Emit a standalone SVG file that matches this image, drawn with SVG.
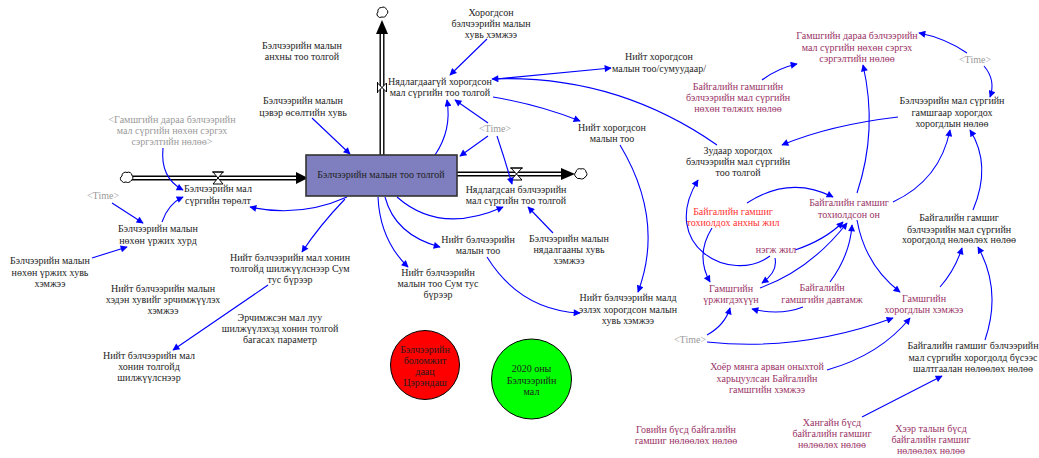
<svg xmlns="http://www.w3.org/2000/svg" width="1039" height="458" viewBox="0 0 1039 458">
<style>
text{font-family:"Liberation Serif","Times New Roman",serif;font-size:10px;text-anchor:middle;fill:#1e1e1e}
.g{fill:#9a9a9a}
.m{fill:#993366}
.r{fill:#ff3333}
.c{fill:none;stroke:#0000ff;stroke-width:1.1;marker-end:url(#a)}
.po{fill:none;stroke:#000;stroke-width:5}
.pi{fill:none;stroke:#fff;stroke-width:2.2}
.cl{fill:#fff;stroke:#000;stroke-width:1}
.v{fill:#fff;stroke:#000;stroke-width:1}
</style>
<defs>
<marker id="a" viewBox="0 0 10 10" refX="9" refY="5" markerWidth="9" markerHeight="7" markerUnits="userSpaceOnUse" orient="auto">
<path d="M0,0 L10,5 L0,10 z" fill="#0000ff"/>
</marker>
</defs>
<rect width="1039" height="458" fill="#fff"/>

<g id="flows">
<path class="po" d="M131,178 H298"/><path class="pi" d="M131,178 H298"/>
<path d="M296,172 L308,178 L296,184 z" fill="#000"/>
<path class="v" d="M213,172 H223 L213,184 H223 z"/>
<line x1="212" y1="172" x2="224" y2="172" stroke="#000"/>
<path class="cl" d="M122,176 a3.5,3.5 0 0 1 5,-3.5 a3.5,3.5 0 0 1 5,3 a3,3 0 0 1 -1,5 a3.5,3.5 0 0 1 -5,1.5 a3.5,3.5 0 0 1 -4.5,-1 a3,3 0 0 1 0.5,-5 z"/>
<path class="po" d="M382,155 V32"/><path class="pi" d="M382,155 V32"/>
<path d="M376,34 L382,20 L388,34 z" fill="#000"/>
<path class="v" d="M377.5,83 V92 L386.5,83 V92 z"/>
<line x1="377.5" y1="82" x2="377.5" y2="93" stroke="#000"/>
<path class="cl" d="M378,12 a3.5,3.5 0 0 1 3.5,-4.5 a3.5,3.5 0 0 1 5,2 a3,3 0 0 1 0,5 a3.5,3.5 0 0 1 -4.5,2.5 a3.5,3.5 0 0 1 -4.5,-1 a3,3 0 0 1 0.5,-4 z"/>
<path class="po" d="M457,174 H563"/><path class="pi" d="M457,174 H563"/>
<path d="M561,168 L575,174 L561,180 z" fill="#000"/>
<path class="v" d="M511,168 H522 L511,180 H522 z"/>
<line x1="510" y1="168" x2="523" y2="168" stroke="#000"/>
<path class="cl" d="M576,172 a3.5,3.5 0 0 1 5,-3 a3.5,3.5 0 0 1 5,3 a3,3 0 0 1 -1,5 a3.5,3.5 0 0 1 -5,1.5 a3.5,3.5 0 0 1 -4,-1.5 a3,3 0 0 1 0,-5 z"/>
</g>

<g id="connectors">
<path class="c" d="M312,118 L350,154"/>
<path class="c" d="M487,39 L450,75"/>
<path class="c" d="M435,155 Q452,130 447,100"/>
<path class="c" d="M488,123 L455,100"/>
<path class="c" d="M488,136 L460,156"/>
<path class="c" d="M497,136 Q505,160 512,184"/>
<path class="c" d="M717,145 Q615,74 492,79"/>
<path class="c" d="M496,79 L611,68"/>
<path class="c" d="M493,97 Q540,105 580,121"/>
<path class="c" d="M620,145 Q665,220 638,292"/>
<path class="c" d="M487,257 Q520,310 580,313"/>
<path class="c" d="M385,197 Q395,235 440,247"/>
<path class="c" d="M378,197 Q380,240 408,267"/>
<path class="c" d="M397,197 Q440,235 503,207"/>
<path class="c" d="M553,233 L528,207"/>
<path class="c" d="M347,197 Q300,218 250,207"/>
<path class="c" d="M345,199 Q320,225 302,252"/>
<path class="c" d="M163,148 Q160,178 183,190"/>
<path class="c" d="M112,203 L143,223"/>
<path class="c" d="M162,222 Q168,204 183,197"/>
<path class="c" d="M92,258 L127,247"/>
<path class="c" d="M268,285 L173,350"/>
<path class="c" d="M762,80 Q778,68 797,64"/>
<path class="c" d="M967,53 Q945,38 919,33"/>
<path class="c" d="M984,66 Q996,80 990,97"/>
<path class="c" d="M898,117 Q830,125 782,145"/>
<path class="c" d="M857,193 Q878,130 863,65"/>
<path class="c" d="M893,202 Q940,180 950,130"/>
<path class="c" d="M973,210 Q992,165 970,130"/>
<path class="c" d="M747,203 Q790,175 833,197"/>
<path class="c" d="M712,228 Q695,255 710,282"/>
<path class="c" d="M770,256 C730,285 658,245 698,180"/>
<path class="c" d="M775,258 Q778,272 762,283"/>
<path class="c" d="M795,250 Q825,240 843,222"/>
<path class="c" d="M760,288 Q810,270 847,223"/>
<path class="c" d="M830,282 Q850,255 852,225"/>
<path class="c" d="M803,307 Q780,316 752,309"/>
<path class="c" d="M857,220 Q865,265 900,292"/>
<path class="c" d="M940,287 Q955,270 962,248"/>
<path class="c" d="M985,340 Q1002,290 978,247"/>
<path class="c" d="M707,335 Q725,325 730,308"/>
<path class="c" d="M707,342 Q800,352 893,318"/>
<path class="c" d="M827,370 Q880,355 910,318"/>
<path class="c" d="M862,417 L942,376"/>
</g>

<g id="stock">
<rect x="306" y="155" width="151" height="41" fill="#7f7fbf" stroke="#333" stroke-width="1.6"/>
<text x="381" y="178">Бэлчээрийн малын тоо толгой</text>
</g>

<g id="n_anhny"><text x="302" y="49">Бэлчээрийн малын</text><text x="302" y="60">анхны тоо толгой</text></g>
<g id="n_tsever"><text x="303" y="104">Бэлчээрийн малын</text><text x="303" y="116">цэвэр өсөлтийн хувь</text></g>
<g id="n_shadow1"><text class="g" x="172" y="123">&lt;Гамшгийн дараа бэлчээрийн</text><text class="g" x="172" y="134">мал сүргийн нөхөн сэргэх</text><text class="g" x="172" y="145">сэргэлтийн нөлөө&gt;</text></g>
<g id="n_horogdson_huvi"><text x="491" y="16">Хорогдсон</text><text x="491" y="27">бэлчээрийн малын</text><text x="491" y="38">хувь хэмжээ</text></g>
<g id="n_nyadlagdaagui"><text x="440" y="85">Нядлагдаагүй хорогдсон</text><text x="440" y="96">мал сүргийн тоо толгой</text></g>
<g id="n_niit_sum"><text x="659" y="60">Нийт хорогдсон</text><text x="659" y="72">малын тоо/сумуудаар/</text></g>
<g id="n_niit_horogdson"><text x="612" y="131">Нийт хорогдсон</text><text x="612" y="142">малын тоо</text></g>
<g id="n_time1"><text class="g" x="495" y="132">&lt;Time&gt;</text></g>
<g id="n_gamshgiin_daraa"><text class="m" x="857" y="39">Гамшгийн дараа бэлчээрийн</text><text class="m" x="857" y="51">мал сүргийн нөхөн сэргэх</text><text class="m" x="857" y="62">сэргэлтийн нөлөө</text></g>
<g id="n_time2"><text class="g" x="975" y="63">&lt;Time&gt;</text></g>
<g id="n_tolzhih"><text class="m" x="738" y="90">Байгалийн гамшгийн</text><text class="m" x="738" y="101">бэлчээрийн мал сүргийн</text><text class="m" x="738" y="112">нөхөн төлжих нөлөө</text></g>
<g id="n_gamshgaar"><text x="952" y="104">Бэлчээрийн мал сүргийн</text><text x="952" y="116">гамшгаар хорогдох</text><text x="952" y="127">хорогдлын нөлөө</text></g>
<g id="n_zud"><text x="738" y="154">Зудаар хорогдох</text><text x="738" y="165">бэлчээрийн мал сүргийн</text><text x="738" y="176">тоо толгой</text></g>
<g id="n_torolt"><text x="218" y="192">Бэлчээрийн мал</text><text x="218" y="204">сүргийн төрөлт</text></g>
<g id="n_time3"><text class="g" x="103" y="199">&lt;Time&gt;</text></g>
<g id="n_hurd"><text x="158" y="232">Бэлчээрийн малын</text><text x="158" y="244">нөхөн үржих хурд</text></g>
<g id="n_urzhih_huvi"><text x="50" y="264">Бэлчээрийн малын</text><text x="50" y="276">нөхөн үржих хувь</text><text x="50" y="287">хэмжээ</text></g>
<g id="n_erchim"><text x="163" y="292">Нийт бэлчээрийн малын</text><text x="163" y="303">хэдэн хувийг эрчимжүүлэх</text><text x="163" y="314">хэмжээ</text></g>
<g id="n_honin_sum"><text x="290" y="261">Нийт бэлчээрийн мал хонин</text><text x="290" y="272">толгойд шилжүүлснээр Сум</text><text x="290" y="283">тус бүрээр</text></g>
<g id="n_param"><text x="280" y="321">Эрчимжсэн мал луу</text><text x="280" y="332">шилжүүлэхэд хонин толгой</text><text x="280" y="343">багасах параметр</text></g>
<g id="n_honin"><text x="149" y="359">Нийт бэлчээрийн мал</text><text x="149" y="370">хонин толгойд</text><text x="149" y="381">шилжүүлснээр</text></g>
<g id="n_nyadlagdsan"><text x="516" y="193">Нядлагдсан бэлчээрийн</text><text x="516" y="204">мал сүргийн тоо толгой</text></g>
<g id="n_nyadalga_huvi"><text x="569" y="242">Бэлчээрийн малын</text><text x="569" y="253">нядалгааны хувь</text><text x="569" y="264">хэмжээ</text></g>
<g id="n_niit_too"><text x="478" y="243">Нийт бэлчээрийн</text><text x="478" y="254">малын тоо</text></g>
<g id="n_niit_too_sum"><text x="438" y="276">Нийт бэлчээрийн</text><text x="438" y="287">малын тоо Сум тус</text><text x="438" y="298">бүрээр</text></g>
<g id="n_ezleh"><text x="628" y="301">Нийт бэлчээрийн малд</text><text x="628" y="313">эзлэх хорогдсон малын</text><text x="628" y="324">хувь хэмжээ</text></g>
<g id="n_daats"><circle cx="425" cy="365" r="34.5" fill="#ff0000" stroke="#000" stroke-width="1"/><text x="425" y="353">Бэлчээрийн</text><text x="425" y="364">боломжит</text><text x="425" y="375">даац</text><text x="425" y="386">Цэрэндаш</text></g>
<g id="n_2020"><circle cx="531.5" cy="379" r="40" fill="#00ff00" stroke="#000" stroke-width="1"/><text x="531.5" y="372">2020 оны</text><text x="531.5" y="384">Бэлчээрийн</text><text x="531.5" y="395">мал</text></g>
<g id="n_time4"><text class="g" x="690" y="343">&lt;Time&gt;</text></g>
<g id="n_horogdlyn"><text class="m" x="924" y="302">Гамшгийн</text><text class="m" x="924" y="313">хорогдлын хэмжээ</text></g>
<g id="n_2010"><text class="m" x="767" y="370">Хоёр мянга арван оныхтой</text><text class="m" x="767" y="382">харьцуулсан Байгалийн</text><text class="m" x="767" y="393">гамшгийн хэмжээ</text></g>
<g id="n_bus"><text x="973" y="349">Байгалийн гамшиг бэлчээрийн</text><text x="973" y="361">мал сүргийн хорогдолд бүсээс</text><text x="973" y="372">шалтгаалан нөлөөлөх нөлөө</text></g>
<g id="n_hangai"><text class="m" x="832" y="426">Хангайн бүсд</text><text class="m" x="832" y="437">байгалийн гамшиг</text><text class="m" x="832" y="448">нөлөөлөх нөлөө</text></g>
<g id="n_heer"><text class="m" x="931" y="432">Хээр талын бүсд</text><text class="m" x="931" y="443">байгалийн гамшиг</text><text class="m" x="931" y="454">нөлөөлөх нөлөө</text></g>
<g id="n_govi"><text class="m" x="686" y="433">Говийн бүсд байгалийн</text><text class="m" x="686" y="444">гамшиг нөлөөлөх нөлөө</text></g>
<g id="n_anhny_jil"><text class="r" x="733" y="215">Байгалийн гамшиг</text><text class="r" x="733" y="226">тохиолдох анхны жил</text></g>
<g id="n_tohioldson"><text class="m" x="849" y="206">Байгалийн гамшиг</text><text class="m" x="849" y="218">тохиолдсон он</text></g>
<g id="n_negzh"><text class="m" x="776" y="253">нэгж жил</text></g>
<g id="n_noloolh"><text x="959" y="221">Байгалийн гамшиг</text><text x="959" y="233">бэлчээрийн мал сүргийн</text><text x="959" y="243">хорогдолд нөлөөлөх нөлөө</text></g>
<g id="n_urzhigdehuun"><text class="m" x="731" y="292">Гамшгийн</text><text class="m" x="731" y="303">үржигдэхүүн</text></g>
<g id="n_davtamzh"><text class="m" x="822" y="291">Байгалийн</text><text class="m" x="822" y="303">гамшгийн давтамж</text></g>
</svg>
